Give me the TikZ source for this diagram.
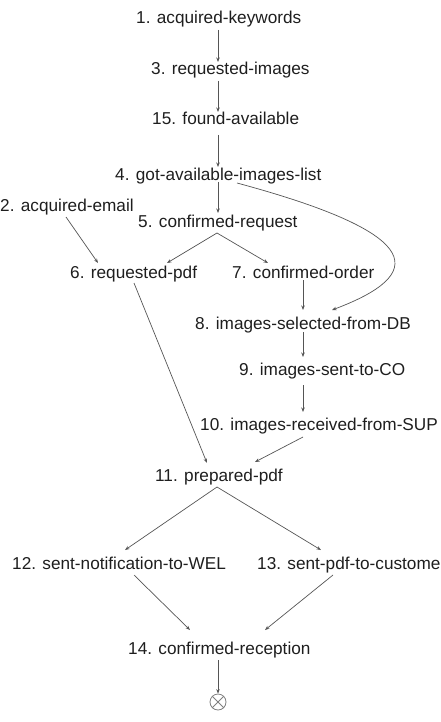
\documentclass[tikz,border=0pt]{standalone}
\usepackage{fontspec}
\setmainfont{Liberation Sans}
\usetikzlibrary{arrows.meta}
\definecolor{txt}{HTML}{1E1E1E}
\definecolor{edge}{HTML}{555555}
\definecolor{finc}{HTML}{808080}
\begin{document}
\begin{tikzpicture}[x=1pt,y=-1pt,
  state/.style={anchor=base west,inner sep=0pt,text=txt,
    font=\fontsize{17.2}{20}\selectfont},
  arr/.style={draw=edge,line width=0.7pt,-{Stealth[length=4.5pt,width=3.5pt]}},
  finstyle/.style={circle,draw=finc,line width=0.8pt,minimum size=16pt,inner sep=0pt}]
\useasboundingbox (0,0) rectangle (440,722);
\node[state] (n1)  at (136,24)  {1. acquired-keywords};
\node[state] (n3)  at (151,75)  {3. requested-images};
\node[state] (n15) at (152,125) {15. found-available};
\node[state] (n4)  at (115,180) {4. got-available-images-list};
\node[state] (n2)  at (0,211)   {2. acquired-email};
\node[state] (n5)  at (138,227) {5. confirmed-request};
\node[state] (n6)  at (70,278)  {6. requested-pdf};
\node[state] (n7)  at (232,278) {7. confirmed-order};
\node[state] (n8)  at (195,329) {8. images-selected-from-DB};
\node[state] (n9)  at (239,375) {9. images-sent-to-CO};
\node[state] (n10) at (200,430) {10. images-received-from-SUP};
\node[state] (n11) at (155,481) {11. prepared-pdf};
\node[state] (n12) at (12,569)  {12. sent-notification-to-WEL};
\node[state] (n13) at (257,569) {13. sent-pdf-to-custome};
\node[state] (n14) at (128,654) {14. confirmed-reception};
\node[finstyle] (fin) at (218,702) {};
\draw[draw=finc,line width=0.8pt] (fin.45) -- (fin.225) (fin.135) -- (fin.315);

\draw[arr] ([shift={(82,6)}]n1.base west) -- ([shift={(67,-13)}]n3.base west);
\draw[arr] ([shift={(67,6)}]n3.base west) -- ([shift={(66,-13)}]n15.base west);
\draw[arr] ([shift={(66,10)}]n15.base west) -- ([shift={(103,-13)}]n4.base west);
\draw[arr] ([shift={(103,2)}]n4.base west) -- ([shift={(80,-14)}]n5.base west);
\draw[arr] ([shift={(79,6)}]n5.base west) -- ([shift={(97,-15)}]n6.base west);
\draw[arr] ([shift={(79,6)}]n5.base west) -- ([shift={(36,-15)}]n7.base west);
\draw[arr] ([shift={(66,6)}]n2.base west) -- ([shift={(28,-15)}]n6.base west);
\draw[arr] ([shift={(122,3)}]n4.base west) .. controls (430,235) and (425,275) .. ([shift={(137,-19)}]n8.base west);
\draw[arr] ([shift={(71,2)}]n7.base west) -- ([shift={(108,-19)}]n8.base west);
\draw[arr] ([shift={(108,3)}]n8.base west) -- ([shift={(64,-18)}]n9.base west);
\draw[arr] ([shift={(64,10)}]n9.base west) -- ([shift={(103,-18)}]n10.base west);
\draw[arr] ([shift={(103,7)}]n10.base west) -- ([shift={(100,-19)}]n11.base west);
\draw[arr] ([shift={(64,5)}]n6.base west) -- ([shift={(52,-18)}]n11.base west);
\draw[arr] ([shift={(62,6)}]n11.base west) -- ([shift={(113,-19)}]n12.base west);
\draw[arr] ([shift={(62,6)}]n11.base west) -- ([shift={(64,-19)}]n13.base west);
\draw[arr] ([shift={(122,6)}]n12.base west) -- ([shift={(62,-24)}]n14.base west);
\draw[arr] ([shift={(76,6)}]n13.base west) -- ([shift={(137,-24)}]n14.base west);
\draw[arr] ([shift={(90,6)}]n14.base west) -- (fin.north);
\end{tikzpicture}
\end{document}
